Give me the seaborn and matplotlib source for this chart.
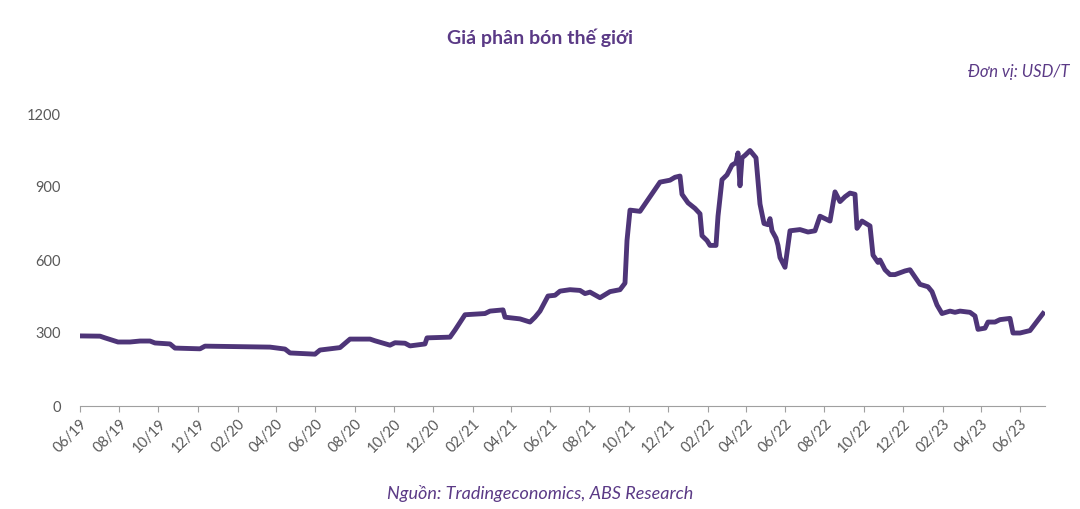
import matplotlib
matplotlib.use("Agg")
import matplotlib.pyplot as plt
import seaborn as sns
import pandas as pd

# time offsets (units of ~1 month) since 2019-06-01
month_offset = [0,1,1.25,1.9,2.5,3,3.5,3.75,4.5,4.75,
                6,6.25,9.5,10.25,10.5,11,11.75,12,13,13.5,
                14.5,14.75,15.5,15.75,16.25,16.5,17.25,17.35,18.5,18.75,
                19.25,20.25,20.5,21.15,21.25,22,22.5,22.75,23,23.4,
                23.75,24,24.5,25,25.25,25.5,26,26.5,27,27.25,
                27.35,27.5,28,28.25,29,29.5,29.75,30,30.1,30.4,
                30.75,31,31.1,31.35,31.5,31.8,31.9,32.1,32.35,32.6,
                32.8,32.9,33,33.1,33.25,33.5,33.8,34,34.2,34.4,
                34.5,34.6,34.8,34.9,35,35.25,35.5,36,36.4,36.75,
                37,37.5,37.75,38,38.25,38.5,38.75,38.85,39.1,39.5,
                39.65,39.9,40,40.25,40.5,40.75,41.25,41.5,41.75,42,
                42.4,42.6,42.85,43.1,43.5,43.75,44,44.5,44.75,44.9,
                45.25,45.4,45.75,46,46.5,46.65,47,47.5,48.15]
price = [288,287,280,263,263,267,267,259,255,238,
         235,246,242,234,218,216,213,230,240,275,
         275,268,250,260,258,247,255,280,283,312,
         375,380,390,395,365,358,345,365,390,452,
         455,472,478,475,462,468,445,470,478,505,
         680,805,800,830,920,928,940,945,870,835,
         812,790,700,680,660,660,780,930,950,990,
         1000,1040,905,1020,1030,1050,1020,830,750,745,
         770,720,690,660,610,570,720,725,715,720,
         780,760,880,840,860,875,870,730,760,740,
         620,590,600,560,540,540,555,560,530,500,
         490,470,415,380,390,385,390,385,370,315,
         320,345,345,355,360,300,300,310,380]
yticks = [0, 300, 600, 900, 1200]
xtick_labels = ["06/19","08/19","10/19","12/19","02/20","04/20","06/20","08/20","10/20","12/20",
                "02/21","04/21","06/21","08/21","10/21","12/21","02/22","04/22","06/22","08/22",
                "10/22","12/22","02/23","04/23","06/23"]

DAYS_PER_UNIT = 31.09
start = pd.Timestamp("2019-06-01")
dates = [start + pd.Timedelta(days=m * DAYS_PER_UNIT) for m in month_offset]
df = pd.DataFrame({"date": dates, "price": price})

purple = "#4e3578"
text_purple = "#5b3a86"
fig = plt.figure(figsize=(10.8, 5.09), dpi=100)
ax = fig.add_axes([80/1080, 1-406/509, (1045-80)/1080, (406-114)/509])
sns.lineplot(data=df, x="date", y="price", ax=ax, color=purple, linewidth=3.5)
tick_dates = [pd.Timestamp(f"20{l[3:]}-{l[:2]}-01") for l in xtick_labels]
ax.set_xticks(tick_dates)
ax.set_xticklabels(xtick_labels, rotation=45, ha="right", rotation_mode="anchor",
                   fontsize=10.5, color="#595959", family="Lato")
ax.set_xlim(start, start + pd.Timedelta(days=(1045-80)/20*DAYS_PER_UNIT))
ax.set_ylim(0, 1200)
ax.set_yticks(yticks)
ax.set_yticklabels([str(v) for v in yticks], fontsize=10.5, color="#595959", family="Lato")
for s in ["top", "right", "left"]:
    ax.spines[s].set_visible(False)
ax.spines["bottom"].set_color("#a0a0a0")
ax.tick_params(axis="y", length=0, pad=14)
ax.tick_params(axis="x", length=4, color="#a0a0a0")
ax.set_xlabel(""); ax.set_ylabel("")
fig.text(0.5, 1-38/509, "Giá phân bón thế giới", ha="center", va="center", fontsize=14,
         fontweight="bold", color=text_purple, family="Lato")
fig.text(1070/1080, 1-72/509, "Đơn vị: USD/T", ha="right", va="center", fontsize=12,
         style="italic", color=text_purple, family="Lato")
fig.text(0.5, 1-493/509, "Nguồn: Tradingeconomics, ABS Research", ha="center", va="center",
         fontsize=13, style="italic", color=text_purple, family="Lato")
fig.savefig("out.png", dpi=100)
